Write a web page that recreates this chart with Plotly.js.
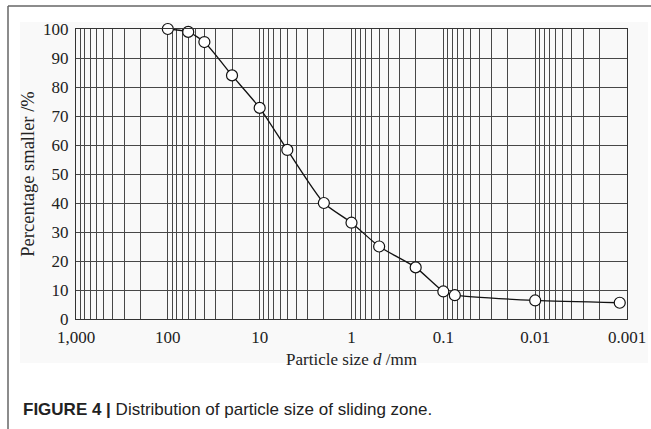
<!DOCTYPE html>
<html>
<head>
<meta charset="utf-8">
<script src="https://cdn.plot.ly/plotly-3.0.1.min.js"></script>
<style>
  html, body { margin: 0; padding: 0; background: #ffffff; }
  #chart { width: 651px; height: 429px; }
</style>
</head>
<body>
<div id="chart"></div>
<script>
// Particle size (mm) and cumulative percentage smaller (%)
const particleSize = [100, 60, 40, 20, 10, 5, 2, 1, 0.5, 0.2, 0.1, 0.075, 0.01, 0.0012];
const percentSmaller = [100, 99, 95.5, 84, 72.8, 58.3, 40, 33.2, 25, 17.8, 9.5, 8.2, 6.4, 5.6];

const xTickVals = [1000, 100, 10, 1, 0.1, 0.01, 0.001];
const xTickText = ['1,000', '100', '10', '1', '0.1', '0.01', '0.001'];
const yTickVals = [0, 10, 20, 30, 40, 50, 60, 70, 80, 90, 100];

// minor log grid positions (2..9 within every decade)
const minorDigits = [2, 3, 4, 5, 6, 7, 8, 9];
const minorVals = [];
xTickVals.slice(1).forEach(function (dec) {
  minorDigits.forEach(function (d) { minorVals.push(dec * d); });
});

const W = 651, H = 429;
const M = { l: 76, r: 24, t: 29, b: 110 };
const pw = W - M.l - M.r, ph = H - M.t - M.b;
function px(x) { return (x - M.l) / pw; }
function py(y) { return (H - M.b - y) / ph; }

const gridColor = '#474747';
const serif = 'Liberation Serif, Times New Roman, serif';
const NB = '\u00a0';

const trace = {
  x: particleSize,
  y: percentSmaller,
  type: 'scatter',
  mode: 'lines+markers',
  line: { color: '#111111', width: 1.3, shape: 'spline', smoothing: 0.6 },
  marker: { symbol: 'circle', size: 11, color: '#ffffff', line: { color: '#111111', width: 1.2 } },
  cliponaxis: false,
  hoverinfo: 'x+y'
};

const layout = {
  width: W,
  height: H,
  margin: M,
  paper_bgcolor: '#ffffff',
  plot_bgcolor: 'rgba(0,0,0,0)',
  showlegend: false,
  font: { family: serif, size: 17, color: '#222222' },
  xaxis: {
    type: 'log',
    range: [3, -3],
    tickmode: 'array',
    tickvals: xTickVals,
    ticktext: xTickText,
    ticks: '',
    ticklabelstandoff: 2,
    showgrid: true,
    gridcolor: gridColor,
    gridwidth: 1,
    showline: true,
    linecolor: '#333333',
    linewidth: 1.2,
    mirror: true,
    zeroline: false,
    tickfont: { family: serif, size: 17, color: '#222222' },
    minor: { tickmode: 'array', tickvals: minorVals, showgrid: true, gridcolor: gridColor, gridwidth: 1, ticks: '' },
    title: { text: NB.repeat(9) + 'Particle size <i>d</i> /mm', font: { family: serif, size: 17, color: '#222222' }, standoff: 7 },
    automargin: false
  },
  yaxis: {
    range: [0, 100],
    tickmode: 'array',
    tickvals: yTickVals,
    ticks: '',
    ticklabelstandoff: 3,
    showgrid: true,
    gridcolor: gridColor,
    gridwidth: 1,
    showline: true,
    linecolor: '#333333',
    linewidth: 1.2,
    mirror: true,
    zeroline: false,
    tickfont: { family: serif, size: 17, color: '#222222' },
    title: { text: NB.repeat(3) + 'Percentage smaller /%', font: { family: serif, size: 18.5, color: '#222222' }, standoff: 3 },
    automargin: false
  },
  shapes: [
    { type: 'rect', xref: 'paper', yref: 'paper', x0: px(20), x1: px(648), y0: py(363), y1: py(22),
      fillcolor: '#f9f9f9', line: { width: 0 }, layer: 'below' },
    { type: 'line', xref: 'paper', yref: 'paper', x0: px(8), x1: px(651), y0: py(6), y1: py(6),
      line: { color: '#666666', width: 1.5 } },
    { type: 'line', xref: 'paper', yref: 'paper', x0: px(8), x1: px(8), y0: py(6), y1: py(429),
      line: { color: '#666666', width: 1.5 } }
  ],
  annotations: [
    { xref: 'paper', yref: 'paper', x: px(21), y: py(409), xanchor: 'left', yanchor: 'middle', showarrow: false,
      text: '<b>FIGURE 4 |</b> Distribution of particle size of sliding zone.',
      font: { family: 'Liberation Sans, Arial, sans-serif', size: 17, color: '#222222' } }
  ]
};

Plotly.newPlot('chart', [trace], layout, { displayModeBar: false, staticPlot: true });
</script>
</body>
</html>
